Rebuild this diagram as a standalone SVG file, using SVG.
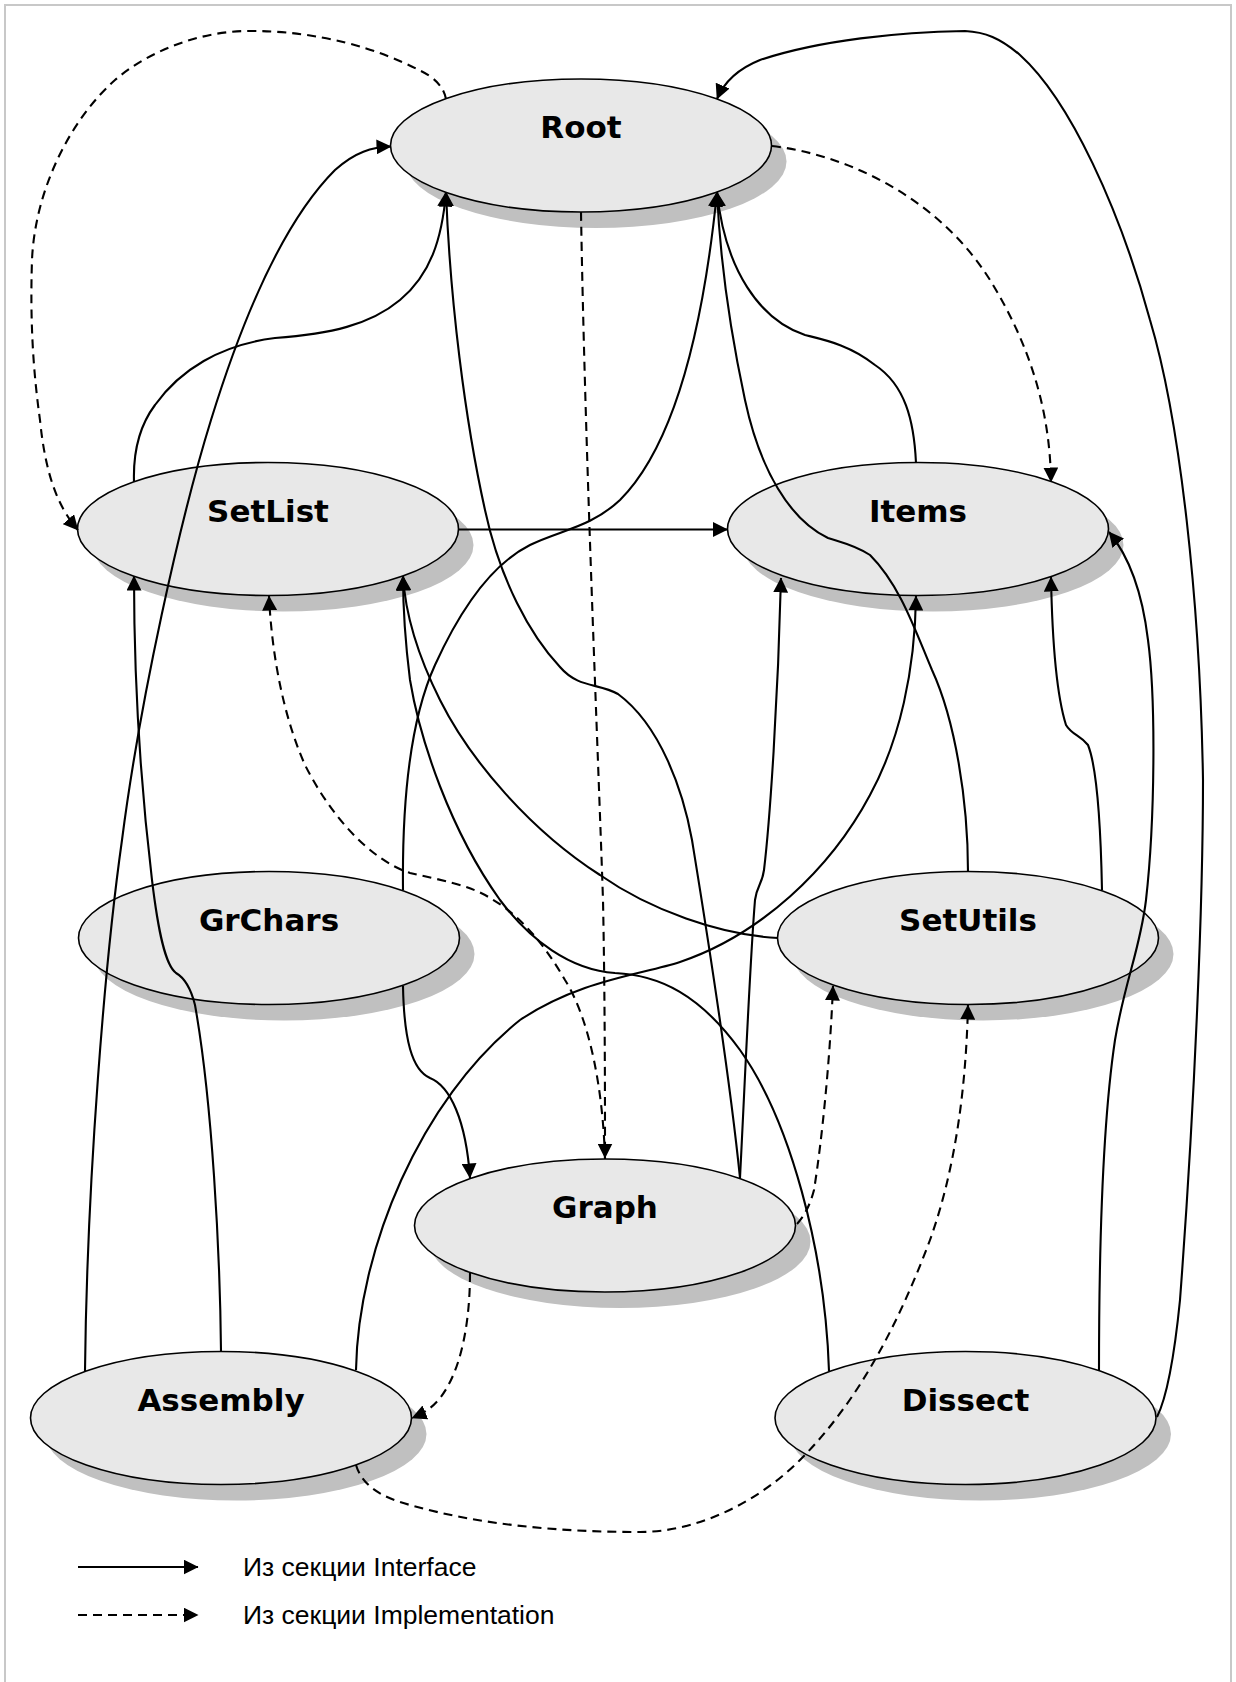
<svg xmlns="http://www.w3.org/2000/svg" width="1236" height="1682" viewBox="0 0 1236 1682">
  <style>
    .shadow { fill: #c0c0c0; }
    .body { fill: #e8e8e8; stroke: #000; stroke-width: 1.6; }
    .label { font-family: "DejaVu Sans", Verdana, sans-serif; font-weight: bold; font-size: 31px; text-anchor: middle; fill: #000; }
    .edge { fill: none; stroke: #000; stroke-width: 2.1; marker-end: url(#arrow); }
    .impl { stroke-dasharray: 9 6; }
    .legend-text { font-family: "Liberation Sans", Arial, sans-serif; font-size: 26.5px; fill: #000; }
  </style>
  <defs>
    <marker id="arrow" markerUnits="userSpaceOnUse" markerWidth="15" markerHeight="15" viewBox="0 0 15 15" refX="14.5" refY="7.5" orient="auto">
      <path d="M0,0 L15,7.5 L0,15 Z" fill="#000"/>
    </marker>
  </defs>

  <rect width="1236" height="1682" fill="#fff"/>
  <rect x="5" y="5" width="1226" height="1720" fill="none" stroke="#c8c8c8" stroke-width="2"/>

  <!-- units -->
  <g id="root">
    <ellipse class="shadow" cx="596" cy="161.5" rx="190.5" ry="66.5"/>
    <ellipse class="body" cx="581" cy="145.5" rx="190.5" ry="66.5"/>
    <text class="label" x="581" y="138">Root</text>
  </g>
  <g id="setlist">
    <ellipse class="shadow" cx="283" cy="545" rx="190.5" ry="66.5"/>
    <ellipse class="body" cx="268" cy="529" rx="190.5" ry="66.5"/>
    <text class="label" x="268" y="521.5">SetList</text>
  </g>
  <g id="items">
    <ellipse class="shadow" cx="933" cy="545" rx="190.5" ry="66.5"/>
    <ellipse class="body" cx="918" cy="529" rx="190.5" ry="66.5"/>
    <text class="label" x="918" y="521.5">Items</text>
  </g>
  <g id="grchars">
    <ellipse class="shadow" cx="284" cy="954" rx="190.5" ry="66.5"/>
    <ellipse class="body" cx="269" cy="938" rx="190.5" ry="66.5"/>
    <text class="label" x="269" y="930.5">GrChars</text>
  </g>
  <g id="setutils">
    <ellipse class="shadow" cx="983" cy="954" rx="190.5" ry="66.5"/>
    <ellipse class="body" cx="968" cy="938" rx="190.5" ry="66.5"/>
    <text class="label" x="968" y="930.5">SetUtils</text>
  </g>
  <g id="graph">
    <ellipse class="shadow" cx="620" cy="1241.5" rx="190.5" ry="66.5"/>
    <ellipse class="body" cx="605" cy="1225.5" rx="190.5" ry="66.5"/>
    <text class="label" x="605" y="1218">Graph</text>
  </g>
  <g id="assembly">
    <ellipse class="shadow" cx="236" cy="1434" rx="190.5" ry="66.5"/>
    <ellipse class="body" cx="221" cy="1418" rx="190.5" ry="66.5"/>
    <text class="label" x="221" y="1410.5">Assembly</text>
  </g>
  <g id="dissect">
    <ellipse class="shadow" cx="980.5" cy="1434" rx="190.5" ry="66.5"/>
    <ellipse class="body" cx="965.5" cy="1418" rx="190.5" ry="66.5"/>
    <text class="label" x="965.5" y="1410.5">Dissect</text>
  </g>

  <!-- uses-relations: solid = interface section, dashed = implementation section -->
  <g id="connectors">
    <!-- Root -> SetList (implementation) -->
    <path class="edge impl" d="M446,99 C444,88 436,78 419,70 C380,50 320,30 245,31 C200,32 150,50 115,80 C70,120 35,190 32,260 C30,320 33,370 40,420 C45,470 56,505 78,530"/>
    <!-- Assembly -> Root -->
    <path class="edge" d="M85,1371 C87,1180 105,960 122,840 C140,700 180,520 211,420 C245,310 285,220 335,170 C355,152 372,147 391,146.5"/>
    <!-- SetList -> Root -->
    <path class="edge" d="M134,482 C133,450 140,425 155,405 C180,370 220,345 275,338 C330,334 370,325 400,300 C430,275 442,240 446,192"/>
    <!-- Graph -> Root -->
    <path class="edge" d="M740,1178 C728,1060 705,920 692,840 C683,790 660,725 618,694 C598,683 578,688 560,667 C530,635 500,580 485,510 C465,420 450,300 446,192"/>
    <!-- Graph -> Items -->
    <path class="edge" d="M740,1178 C745,1080 750,960 755,900 C757,885 762,885 764,870 C770,820 778,700 781,578"/>
    <!-- Root -> Graph (implementation) -->
    <path class="edge impl" d="M581,212 C585,450 598,750 603,900 C605,1000 605,1100 605,1158"/>
    <!-- Dissect -> Root -->
    <path class="edge" d="M1157,1417 C1168,1395 1175,1350 1180,1300 C1195,1100 1203,900 1203,780 C1200,600 1180,420 1150,320 C1120,210 1070,100 1020,55 C1000,38 985,32 965,31 C900,32 820,40 760,60 C740,68 725,80 717,99"/>
    <!-- Root -> Items (implementation) -->
    <path class="edge impl" d="M772,146 C850,155 940,200 990,280 C1030,345 1050,410 1051,482"/>
    <!-- Items -> Root -->
    <path class="edge" d="M916,463 C914,420 905,385 875,365 C850,345 825,340 805,335 C760,320 725,270 717,192"/>
    <!-- GrChars -> Root -->
    <path class="edge" d="M403,890 C402,800 410,720 435,665 C460,610 490,565 530,545 C560,530 590,528 620,500 C665,455 700,360 717,192"/>
    <!-- SetUtils -> Root -->
    <path class="edge" d="M968,872 C968,800 955,720 932,670 C915,630 900,585 870,555 C855,545 840,542 828,538 C790,520 760,470 745,400 C730,330 720,260 717,192"/>
    <!-- SetList -> Items -->
    <path class="edge" d="M458.5,529.5 L727.5,529.5"/>
    <!-- Assembly -> SetList -->
    <path class="edge" d="M221,1351 C220,1250 212,1100 195,1005 C190,985 183,977 176,973 C165,965 158,930 152,880 C140,780 134,680 134,576"/>
    <!-- Assembly -> Items -->
    <path class="edge" d="M356,1370 C358,1250 420,1100 520,1020 C580,980 640,975 680,962 C760,935 830,870 870,795 C900,740 915,670 916,596"/>
    <!-- SetUtils -> SetList -->
    <path class="edge" d="M778,938 C720,935 650,910 600,875 C530,830 470,760 440,700 C415,650 405,610 403,576"/>
    <!-- Dissect -> SetList -->
    <path class="edge" d="M829,1371 C825,1250 790,1120 740,1050 C700,995 660,975 615,973 C570,970 530,940 500,900 C450,830 420,740 410,680 C405,640 403,600 403,576"/>
    <!-- SetUtils -> Items -->
    <path class="edge" d="M1102,890 C1101,840 1098,770 1088,745 C1080,735 1072,735 1066,725 C1055,690 1052,630 1051,577"/>
    <!-- Dissect -> Items -->
    <path class="edge" d="M1099,1370 C1099,1250 1103,1120 1115,1040 C1125,980 1140,950 1146,900 C1155,820 1156,700 1148,640 C1142,590 1128,555 1109,532"/>
    <!-- GrChars -> Graph -->
    <path class="edge" d="M403,986 C404,1040 412,1070 430,1078 C450,1086 466,1120 470,1178"/>
    <!-- Graph -> SetList (implementation) -->
    <path class="edge impl" d="M605,1159 C603,1090 590,1020 565,980 C545,945 520,915 490,898 C470,885 440,880 410,873 C370,860 330,815 305,765 C285,720 272,660 269,596"/>
    <!-- Graph -> SetUtils (implementation) -->
    <path class="edge impl" d="M797,1224 C805,1215 810,1205 814,1190 C822,1140 830,1060 833,986"/>
    <!-- Assembly -> SetUtils (implementation) -->
    <path class="edge impl" d="M356,1465 C362,1485 380,1497 410,1505 C480,1525 560,1532 640,1532 C700,1532 760,1500 800,1460 C860,1400 900,1320 930,1240 C955,1170 966,1090 968,1005"/>
    <!-- Graph -> Assembly (implementation) -->
    <path class="edge impl" d="M470,1273 C470,1320 462,1370 440,1398 C432,1408 424,1413 412,1418"/>
  </g>

  <!-- legend -->
  <g id="legend">
    <path class="edge" d="M78,1567 L198,1567"/>
    <path class="edge impl" d="M78,1615 L198,1615"/>
    <text class="legend-text" x="243" y="1576">Из секции Interface</text>
    <text class="legend-text" x="243" y="1624">Из секции Implementation</text>
  </g>
</svg>
